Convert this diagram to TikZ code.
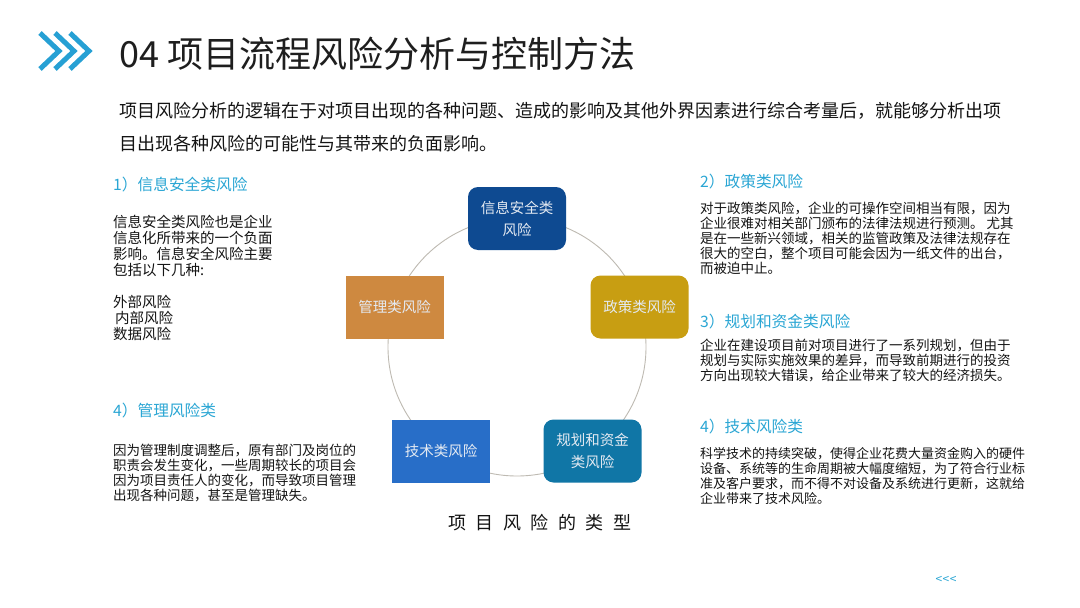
\documentclass[tikz,border=0pt]{standalone}
\usepackage{fontspec}
\setmainfont{Noto Sans CJK SC}
\definecolor{cyanh}{RGB}{42,166,212}
\definecolor{chev}{RGB}{38,160,212}
\definecolor{titlec}{RGB}{30,30,30}
\definecolor{bodyc}{RGB}{20,20,20}
\definecolor{boxtext}{RGB}{228,234,242}
\definecolor{cdarkblue}{RGB}{14,74,145}
\definecolor{cgold}{RGB}{200,158,18}
\definecolor{corange}{RGB}{206,137,64}
\definecolor{ctech}{RGB}{40,110,200}
\definecolor{cteal}{RGB}{16,118,166}
\definecolor{circc}{RGB}{190,186,178}
\begin{document}
\begin{tikzpicture}[x=1pt,y=-1pt,
  heading/.style={anchor=west,inner sep=0pt,text=cyanh,font=\fontsize{15.7}{18}\selectfont},
  body/.style={anchor=north west,inner sep=0pt,align=left,text=bodyc,font=\fontsize{13.5}{15}\selectfont},
  riskbox/.style={minimum width=98pt,minimum height=63pt,inner sep=0pt,text=boxtext,align=center,font=\fontsize{14.5}{22}\selectfont},
  roundbox/.style={riskbox,rounded corners=10pt},
  chevline/.style={draw=chev,line width=5pt,line cap=butt,line join=miter},
]
\useasboundingbox (0,0) rectangle (1080,608);
\fill[white] (0,0) rectangle (1080,608);

% chevrons
\foreach \dx in {0,15,30}{
  \draw[chevline] (40+\dx,33) -- (59+\dx,51) -- (40+\dx,69);
}
\node[anchor=west,inner sep=0pt,text=titlec,font=\fontsize{36}{40}\selectfont] (title) at (119,54) {04 项目流程风险分析与控制方法};

\node[anchor=north west,inner sep=0pt,align=left,text=bodyc,font=\fontsize{18}{33}\selectfont] (intro) at (119,102)
  {项目风险分析的逻辑在于对项目出现的各种问题、造成的影响及其他外界因素进行综合考量后，就能够分析出项\\目出现各种风险的可能性与其带来的负面影响。};

% left column
\node[heading] (h1) at (113,185) {1）信息安全类风险};
\node[body,font=\fontsize{14.5}{16}\selectfont] (b1) at (113,214.5)
  {信息安全类风险也是企业\\信息化所带来的一个负面\\影响。信息安全风险主要\\包括以下几种:\\[16pt]外部风险\\\hspace{2pt}内部风险\\数据风险};

\node[heading] (h4) at (113,411) {4）管理风险类};
\node[body] (b4) at (113,444)
  {因为管理制度调整后，原有部门及岗位的\\职责会发生变化，一些周期较长的项目会\\因为项目责任人的变化，而导致项目管理\\出现各种问题，甚至是管理缺失。};

% right column
\node[heading] (h2) at (700,182) {2）政策类风险};
\node[body] (b2) at (700,202)
  {对于政策类风险，企业的可操作空间相当有限，因为\\企业很难对相关部门颁布的法律法规进行预测。 尤其\\是在一些新兴领域，相关的监管政策及法律法规存在\\很大的空白，整个项目可能会因为一纸文件的出台，\\而被迫中止。};

\node[heading] (h3) at (700,322) {3）规划和资金类风险};
\node[body] (b3) at (700,339)
  {企业在建设项目前对项目进行了一系列规划，但由于\\规划与实际实施效果的差异，而导致前期进行的投资\\方向出现较大错误，给企业带来了较大的经济损失。};

\node[heading] (h5) at (700,427) {4）技术风险类};
\node[body,font=\fontsize{13}{15}\selectfont] (b5) at (700,447)
  {科学技术的持续突破，使得企业花费大量资金购入的硬件\\设备、系统等的生命周期被大幅度缩短，为了符合行业标\\准及客户要求，而不得不对设备及系统进行更新，这就给\\企业带来了技术风险。};

% central diagram
\coordinate (ctr) at (517,347);
\draw[circc,line width=0.9pt] (ctr) circle[radius=129];

\node[roundbox,fill=cdarkblue] (info) at (517,218.5) {信息安全类\\风险};
\node[roundbox,fill=cgold] (policy) at (639.5,307) {政策类风险};
\node[riskbox,fill=corange] (mgmt) at (394.5,307) {管理类风险};
\node[riskbox,fill=ctech] (tech) at (441,451) {技术类风险};
\node[roundbox,fill=cteal] (plan) at (592.5,451) {规划和资金\\类风险};

\node[inner sep=0pt,text=bodyc,font=\fontsize{18}{20}\selectfont] (caption) at (540,523)
  {项\hspace{9.5pt}目\hspace{9.5pt}风\hspace{9.5pt}险\hspace{9.5pt}的\hspace{9.5pt}类\hspace{9.5pt}型};

\node[inner sep=0pt,text=cyanh,font=\fontsize{12}{13}\selectfont] (back) at (946,580) {<\kern0.5pt<\kern0.5pt<};
\end{tikzpicture}
\end{document}
